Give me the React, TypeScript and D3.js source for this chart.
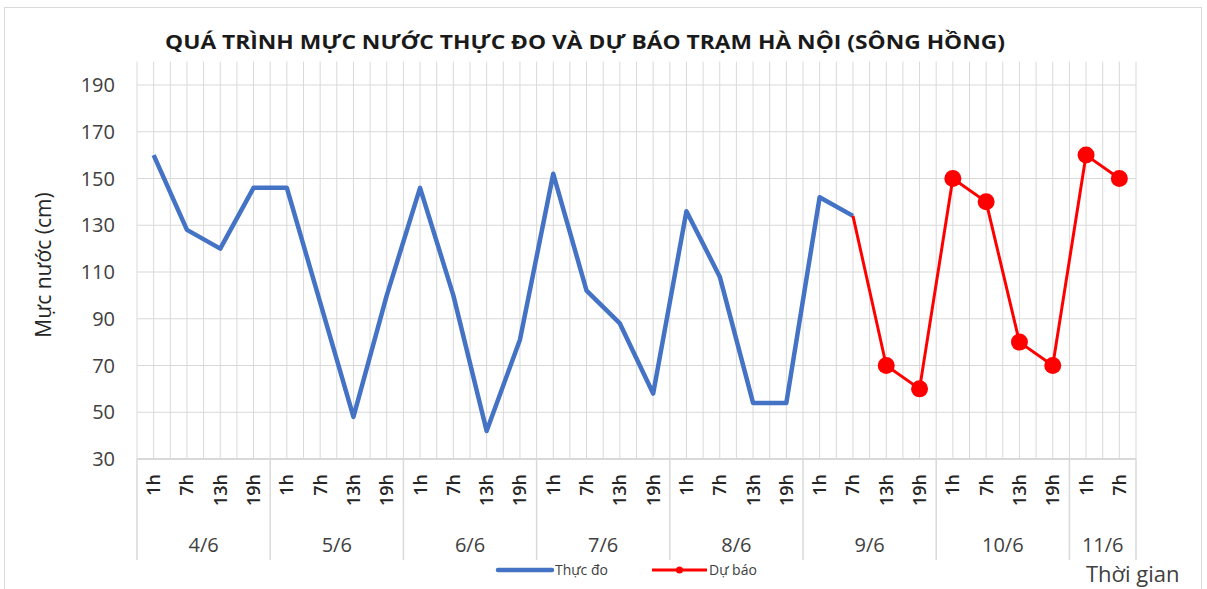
import React from 'react';
import * as d3 from 'd3';

// data
const days = ['4/6', '5/6', '6/6', '7/6', '8/6', '9/6', '10/6', '11/6'];
const dayHourCount = [4, 4, 4, 4, 4, 4, 4, 2];
const hours = ['1h', '7h', '13h', '19h'];
const observed = [160, 128, 120, 146, 146, 97, 48, 100, 146, 100, 42, 81, 152, 102, 88, 58, 136, 108, 54, 54, 142, 134];
const forecastStart = 21; // forecast line starts at the last observed point (9/6 7h)
const forecast = [134, 70, 60, 150, 140, 80, 70, 160, 150];
const yTicks = [30, 50, 70, 90, 110, 130, 150, 170, 190];

const W = 1207;
const H = 589;
const margin = { top: 61.6, right: 71, bottom: 130, left: 137 };
const FONT = '"Open Sans", "Noto Sans", sans-serif';
const BLUE = '#4472C4';
const RED = '#FF0000';
const GRID = '#D9D9D9';

const categories = days.flatMap((d, i) => hours.slice(0, dayHourCount[i]).map(h => ({ day: d, hour: h })));

const App = () => {
  const x = d3.scaleBand<number>()
    .domain(categories.map((_, i) => i))
    .range([margin.left, W - margin.right])
    .padding(0);
  const bw = x.bandwidth();
  const cx = (i: number) => (x(i) as number) + bw / 2;

  const y = d3.scaleLinear().domain([30, 200]).range([H - margin.bottom, margin.top]);
  const plotBottom = y(30);

  const line = d3.line<[number, number]>()
    .x(d => cx(d[0]))
    .y(d => y(d[1]));

  const obsPts: [number, number][] = observed.map((v, i) => [i, v]);
  const fcPts: [number, number][] = forecast.map((v, i) => [forecastStart + i, v]);

  // vertical grid at every half category
  const vGrid = d3.range(0, categories.length * 2 + 1).map(k => margin.left + (k * bw) / 2);

  // group boundaries for the date labels
  const groupEdges: number[] = [0];
  dayHourCount.forEach(c => groupEdges.push(groupEdges[groupEdges.length - 1] + c));

  return (
    <svg width={W} height={H} style={{ position: 'absolute', left: 0, top: 0, background: '#fff' }}>
      <rect x={4.5} y={7.5} width={1197} height={600} fill="#fff" stroke="#D9D9D9" />

      <text x={585} y={49} textAnchor="middle" fontFamily={FONT} fontWeight="bold" fontSize={20}
        fill="#1a1a1a" textLength={840} lengthAdjust="spacingAndGlyphs">
        QUÁ TRÌNH MỰC NƯỚC THỰC ĐO VÀ DỰ BÁO TRẠM HÀ NỘI (SÔNG HỒNG)
      </text>

      {/* grid */}
      {vGrid.map((gx, k) => (
        <line key={'v' + k} x1={gx} x2={gx} y1={margin.top} y2={plotBottom} stroke={GRID} strokeWidth={1} />
      ))}
      {yTicks.map(t => (
        <line key={'h' + t} x1={margin.left} x2={W - margin.right} y1={y(t)} y2={y(t)} stroke={GRID} strokeWidth={1.2} />
      ))}
      <line x1={margin.left} x2={W - margin.right} y1={plotBottom} y2={plotBottom} stroke={GRID} strokeWidth={2} />

      {/* y axis labels */}
      {yTicks.map(t => (
        <text key={'yl' + t} x={115} y={y(t)} dy="0.36em" textAnchor="end" fontFamily={FONT} fontSize={20} fill="#404040">
          {t}
        </text>
      ))}
      <text transform={`translate(44,265) rotate(-90)`} textAnchor="middle" dy="0.35em" fontFamily={FONT}
        fontSize={21} fill="#262626">
        Mực nước (cm)
      </text>

      {/* x axis: hours */}
      {categories.map((c, i) => (
        <text key={'hr' + i} transform={`translate(${cx(i)},474) rotate(-90)`} textAnchor="end" dy="0.36em"
          fontFamily={FONT} fontSize={18} fontWeight={600} fill="#262626">
          {c.hour}
        </text>
      ))}
      {/* x axis: day groups */}
      {groupEdges.map((g, k) => {
        const gx = margin.left + g * bw;
        return <line key={'ge' + k} x1={gx} x2={gx} y1={plotBottom} y2={560} stroke={GRID} strokeWidth={1.5} />;
      })}
      {days.map((d, k) => (
        <text key={'d' + k} x={margin.left + ((groupEdges[k] + groupEdges[k + 1]) / 2) * bw} y={545} dy="0.36em"
          textAnchor="middle" fontFamily={FONT} fontSize={20} fill="#404040">
          {d}
        </text>
      ))}

      {/* series */}
      <path d={line(obsPts) || ''} fill="none" stroke={BLUE} strokeWidth={4.5} strokeLinejoin="round" />
      <path d={line(fcPts) || ''} fill="none" stroke={RED} strokeWidth={3} strokeLinejoin="round" />
      {fcPts.slice(1).map(p => (
        <circle key={'m' + p[0]} cx={cx(p[0])} cy={y(p[1])} r={8.5} fill={RED} />
      ))}

      {/* legend */}
      <line x1={498} x2={552} y1={570} y2={570} stroke={BLUE} strokeWidth={4.5} strokeLinecap="round" />
      <text x={555} y={570} dy="0.35em" fontFamily={FONT} fontSize={14} fill="#404040">Thực đo</text>
      <line x1={652} x2={707} y1={570} y2={570} stroke={RED} strokeWidth={3} />
      <circle cx={679.5} cy={570} r={3.5} fill={RED} />
      <text x={709} y={570} dy="0.35em" fontFamily={FONT} fontSize={14} fill="#404040">Dự báo</text>

      <text x={1086} y={574} dy="0.35em" fontFamily={FONT} fontSize={22} fill="#404040">Thời gian</text>
    </svg>
  );
};

export default App;
